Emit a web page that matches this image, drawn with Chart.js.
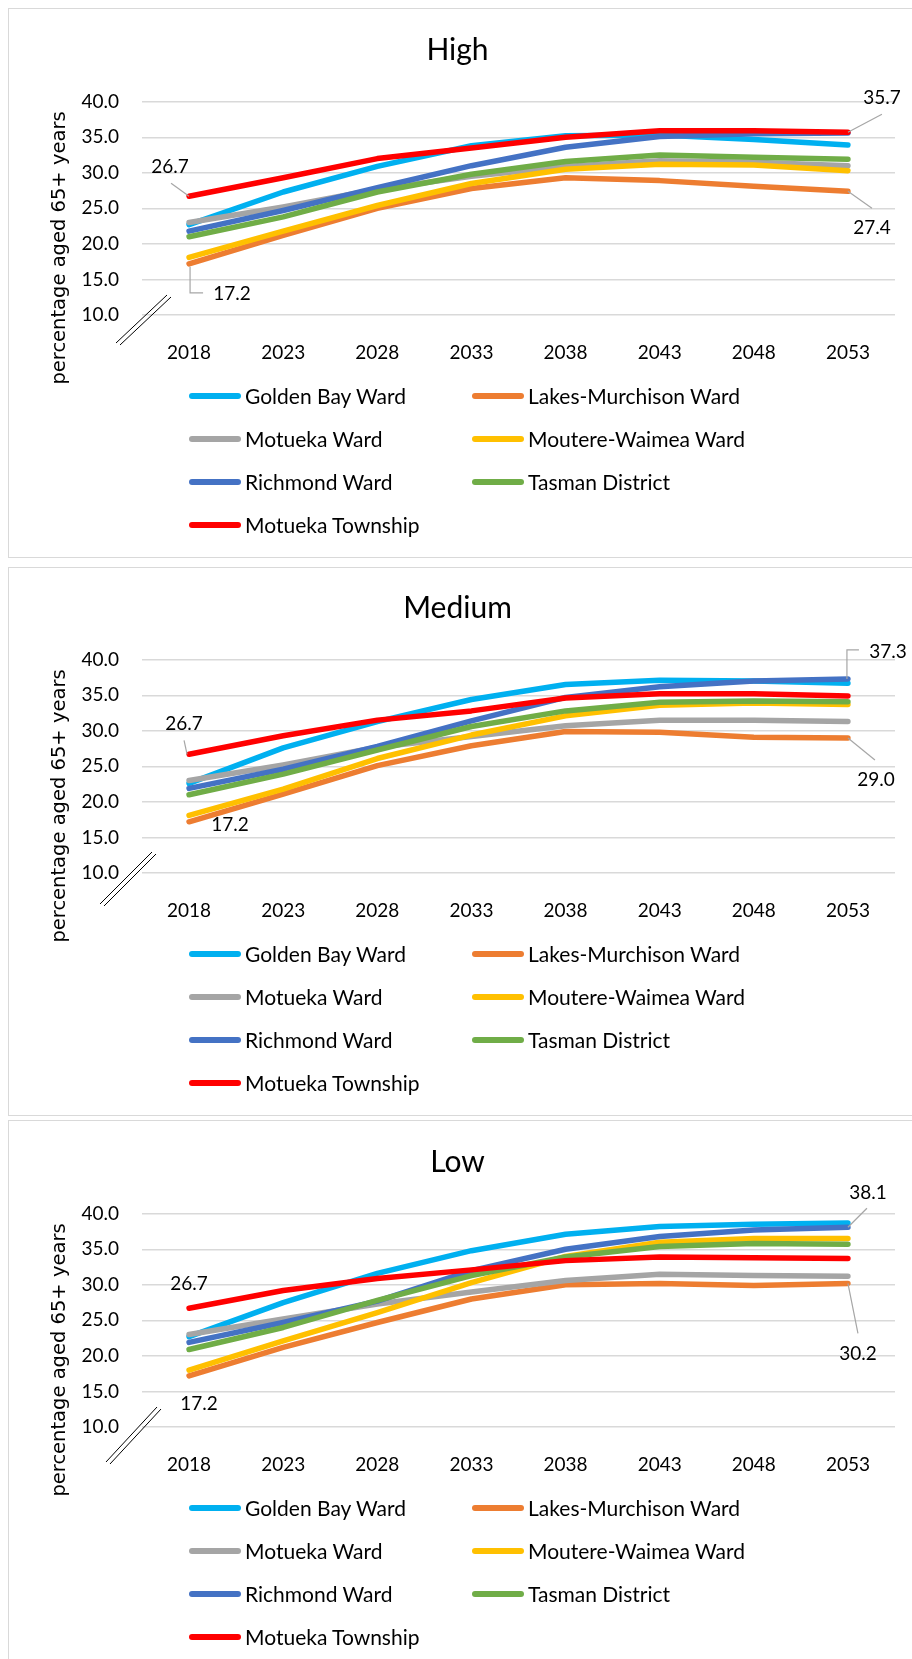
<!DOCTYPE html>
<html><head><meta charset="utf-8">
<script src="https://cdn.jsdelivr.net/npm/chart.js@4/dist/chart.umd.min.js"></script>
<style>
html,body{margin:0;padding:0;background:#fff;}
body{width:912px;height:1659px;position:relative;overflow:hidden;}
.panel{position:absolute;left:8px;width:920px;border:1.5px solid #d9d9d9;box-sizing:border-box;background:#fff;}
.wrap{position:absolute;left:0;width:912px;height:556px;}
.legend{position:absolute;left:189px;display:grid;grid-template-columns:283px 283px;grid-auto-rows:43px;font-family:Lato,sans-serif;font-size:21px;color:#000;}
.item{display:flex;align-items:center;white-space:nowrap;}
.sw{width:52px;height:6px;border-radius:3px;margin-right:4px;flex:none;}
</style></head>
<body>
<div class="panel" style="top:8px;height:550px"></div>
<div class="panel" style="top:567px;height:549px"></div>
<div class="panel" style="top:1120px;height:560px"></div>
<div class="wrap" style="top:0px"><canvas id="c0" width="912" height="556"></canvas></div>
<div class="wrap" style="top:558px"><canvas id="c1" width="912" height="556"></canvas></div>
<div class="wrap" style="top:1112px"><canvas id="c2" width="912" height="556"></canvas></div>
<div class="legend" id="l0" style="top:374px"></div>
<div class="legend" id="l1" style="top:932px"></div>
<div class="legend" id="l2" style="top:1486px"></div>
<script>
// ---- data ----
const years = ['2018','2023','2028','2033','2038','2043','2048','2053'];
const seriesNames = ['Golden Bay Ward','Lakes-Murchison Ward','Motueka Ward','Moutere-Waimea Ward','Richmond Ward','Tasman District','Motueka Township'];
const seriesColors = ['#00B0F0','#ED7D31','#A5A5A5','#FFC000','#4472C4','#70AD47','#FF0000'];
const scenarioTitles = ['High','Medium','Low'];
const yTicks = [10,15,20,25,30,35,40];
const yAxisTitle = 'percentage aged 65+ years';

const highGoldenBay   = [22.7,27.3,30.9,33.8,35.2,35.3,34.7,33.9];
const highLakes       = [17.2,21.2,25.0,27.8,29.3,28.9,28.1,27.4];
const highMotuekaWard = [23.0,25.2,27.7,29.5,30.9,31.7,31.5,31.0];
const highMoutere     = [18.1,21.8,25.4,28.5,30.5,31.2,31.1,30.3];
const highRichmond    = [21.8,24.7,27.9,31.0,33.6,35.1,35.5,35.6];
const highTasman      = [21.0,23.8,27.3,29.8,31.6,32.5,32.2,31.9];
const highTownship    = [26.7,29.3,32.0,33.5,35.0,35.9,35.9,35.7];

const medGoldenBay    = [22.6,27.6,31.3,34.4,36.5,37.1,37.0,36.7];
const medLakes        = [17.2,21.1,25.1,27.9,29.9,29.8,29.1,29.0];
const medMotuekaWard  = [23.0,25.2,27.7,29.2,30.7,31.5,31.5,31.3];
const medMoutere      = [18.1,21.8,26.1,29.4,32.1,33.6,33.9,33.7];
const medRichmond     = [21.9,24.6,27.8,31.4,34.7,36.2,37.0,37.3];
const medTasman       = [21.0,23.9,27.3,30.6,32.8,34.0,34.2,34.1];
const medTownship     = [26.7,29.3,31.5,32.8,34.6,35.2,35.2,34.9];

const lowGoldenBay    = [22.7,27.5,31.6,34.8,37.1,38.2,38.5,38.7];
const lowLakes        = [17.2,21.2,24.7,28.0,30.0,30.2,29.9,30.2];
const lowMotuekaWard  = [23.0,25.2,27.3,29.0,30.6,31.5,31.3,31.2];
const lowMoutere      = [18.0,22.1,26.1,30.3,34.0,36.0,36.5,36.5];
const lowRichmond     = [21.9,24.7,27.7,32.0,35.0,36.8,37.7,38.1];
const lowTasman       = [20.9,24.0,27.8,31.3,33.9,35.4,35.8,35.7];
const lowTownship     = [26.7,29.2,30.9,32.1,33.4,33.9,33.8,33.7];

const scenarioData = [
  [highGoldenBay,highLakes,highMotuekaWard,highMoutere,highRichmond,highTasman,highTownship],
  [medGoldenBay,medLakes,medMotuekaWard,medMoutere,medRichmond,medTasman,medTownship],
  [lowGoldenBay,lowLakes,lowMotuekaWard,lowMoutere,lowRichmond,lowTasman,lowTownship]
];

// ---- label placement (style only) ----
const labelSpecs = [
  [ {ds:6,i:0,dx:-19,dy:-29,leader:[[-18,-13],[0,0]]},
    {ds:1,i:0,dx:43,dy:30,leader:[[1,3],[1,29],[14,29]]},
    {ds:6,i:7,dx:34,dy:-34,leader:[[0,0],[34,-18]]},
    {ds:1,i:7,dx:24,dy:37,leader:[[0,0],[24,17]]} ],
  [ {ds:6,i:0,dx:-5,dy:-30,leader:[[-5,-14],[-2,0]]},
    {ds:1,i:0,dx:41,dy:3},
    {ds:4,i:7,dx:40,dy:-27,leader:[[-1,0],[-1,-29],[11,-29]]},
    {ds:1,i:7,dx:28,dy:42,leader:[[0,0],[27,22]]} ],
  [ {ds:6,i:0,dx:0,dy:-24},
    {ds:1,i:0,dx:10,dy:28},
    {ds:4,i:7,dx:20,dy:-34,leader:[[0,0],[19,-19]]},
    {ds:1,i:7,dx:10,dy:70,leader:[[0,0],[10,50]]} ]
];
const breakMarks = [ [116,343,167,295], [100,346,152,294], [106,350,157,295] ];

const overlay = {
  id:'overlay',
  afterDatasetsDraw(chart, args, opts){
    const ctx = chart.ctx;
    ctx.save();
    for (const lab of opts.labels){
      const pt = chart.getDatasetMeta(lab.ds).data[lab.i];
      const val = chart.data.datasets[lab.ds].data[lab.i];
      if (lab.leader){
        ctx.beginPath(); ctx.strokeStyle='#a6a6a6'; ctx.lineWidth=1.2;
        lab.leader.forEach((p,k)=>{const x=pt.x+p[0], y=pt.y+p[1]; if(k) ctx.lineTo(x,y); else ctx.moveTo(x,y);});
        ctx.stroke();
      }
      ctx.font='19px Lato'; ctx.fillStyle='#000'; ctx.textAlign='center'; ctx.textBaseline='middle';
      ctx.fillText(val.toFixed(1), pt.x+lab.dx, pt.y+lab.dy);
    }
    ctx.restore();
  },
  afterDraw(chart, args, opts){
    const ctx = chart.ctx;
    ctx.save();
    ctx.translate(65, 248);
    ctx.rotate(-Math.PI/2);
    ctx.font='19.5px "DejaVu Sans"'; ctx.fillStyle='#000'; ctx.textAlign='center'; ctx.textBaseline='alphabetic';
    ctx.fillText(yAxisTitle, 0, 0);
    ctx.restore();
    const b = opts.brk;
    ctx.save(); ctx.strokeStyle='#000'; ctx.lineWidth=1;
    for (const off of [[0,0],[4,2]]){
      ctx.beginPath(); ctx.moveTo(b[0]+off[0], b[1]+off[1]); ctx.lineTo(b[2]+off[0], b[3]+off[1]); ctx.stroke();
    }
    ctx.restore();
  }
};

scenarioData.forEach((sets, p) => {
  new Chart(document.getElementById('c'+p), {
    type:'line',
    data:{
      labels: years,
      datasets: sets.map((d,k)=>({
        label: seriesNames[k], data: d, borderColor: seriesColors[k], backgroundColor: seriesColors[k],
        borderWidth: 5.5, pointRadius: 0, tension: 0, borderCapStyle:'round', borderJoinStyle:'round',
        order: sets.length - 1 - k
      }))
    },
    options:{
      responsive:false, animation:false, devicePixelRatio:1,
      layout:{padding:{left:20,right:17,top:12,bottom:181}},
      plugins:{
        legend:{display:false}, tooltip:{enabled:false},
        title:{display:true, text:scenarioTitles[p], color:'#000', font:{family:'Lato',size:30,weight:'normal'}, padding:{top:20,bottom:33.7}},
        overlay:{labels:labelSpecs[p], brk:breakMarks[p]}
      },
      scales:{
        x:{ offset:true, grid:{display:false}, border:{display:false},
            ticks:{color:'#000', font:{family:'Lato',size:19}, padding:18, maxRotation:0},
            afterFit(s){ s.height = 60; } },
        y:{ min:10, max:40, border:{display:false},
            grid:{color:'#d9d9d9', lineWidth:1.5, drawTicks:false},
            afterBuildTicks(s){ s.ticks = yTicks.map(v=>({value:v})); },
            ticks:{color:'#000', font:{family:'Lato',size:19}, padding:23, callback:v=>Number(v).toFixed(1)},
            afterFit(s){ s.width = 122; } }
      }
    },
    plugins:[overlay]
  });
  const lg = document.getElementById('l'+p);
  seriesNames.forEach((n,k)=>{
    const it = document.createElement('div'); it.className='item';
    const sw = document.createElement('span'); sw.className='sw'; sw.style.background=seriesColors[k];
    it.appendChild(sw); it.appendChild(document.createTextNode(n)); lg.appendChild(it);
  });
});
</script>
</body></html>
